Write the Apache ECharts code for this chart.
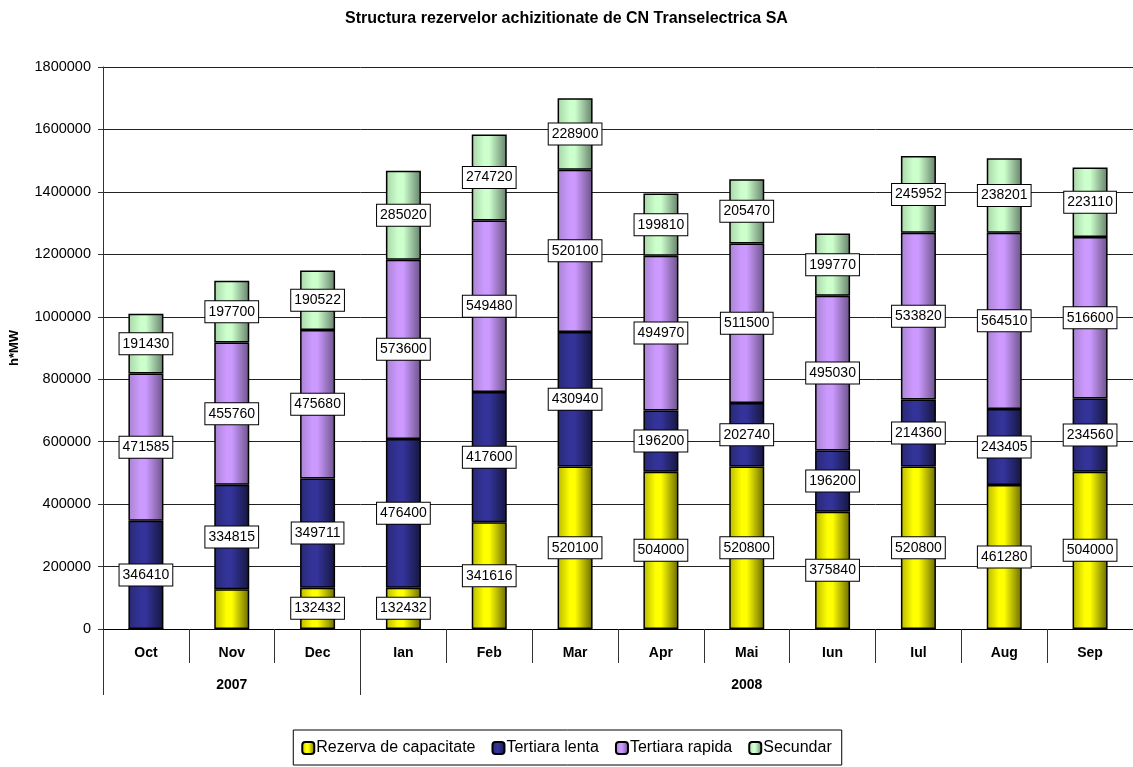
<!DOCTYPE html>
<html>
<head>
<meta charset="utf-8">
<script src="https://cdn.jsdelivr.net/npm/echarts@6/dist/echarts.min.js"></script>
<style>
  html, body { margin: 0; padding: 0; background: #fff; }
  #rezChart { width: 1133px; height: 767px; }
</style>
</head>
<body>
<div id="rezChart"></div>
<script>
// luni si ani
var luni = ["Oct","Nov","Dec","Ian","Feb","Mar","Apr","Mai","Iun","Iul","Aug","Sep"];
var ani = ["","2007","","","","","","2008","","","",""];
// valori h*MW
var rezervaCap = [0, 127000, 132432, 132432, 341616, 520100, 504000, 520800, 375840, 520800, 461280, 504000];
var tertLenta = [346410, 334815, 349711, 476400, 417600, 430940, 196200, 202740, 196200, 214360, 243405, 234560];
var tertRapida = [471585, 455760, 475680, 573600, 549480, 520100, 494970, 511500, 495030, 533820, 564510, 516600];
var secundar = [191430, 197700, 190522, 285020, 274720, 228900, 199810, 205470, 199770, 245952, 238201, 223110];
var yTicks = [0, 200000, 400000, 600000, 800000, 1000000, 1200000, 1400000, 1600000, 1800000];
// etichete ascunse (Oct fara rezerva, Nov fara eticheta in original)
var rezervaFaraEticheta = [0, 1];

var myChart = echarts.init(document.getElementById('rezChart'));

// gradient "cilindru" ca in Excel
var cilindru = function(dark1, mid, dark2){
  return {
    type: 'linear', x: 0, y: 0, x2: 1, y2: 0,
    colorStops: [
      { offset: 0, color: dark1 },
      { offset: 0.35, color: mid },
      { offset: 0.5, color: mid },
      { offset: 1, color: dark2 }
    ]
  };
};

var eticheta = {
  show: true,
  position: 'inside',
  color: '#000',
  fontSize: 14,
  backgroundColor: '#fff',
  borderColor: '#000',
  borderWidth: 1,
  padding: [4, 3, 3, 3],
  formatter: function(p){ return String(p.value); }
};

var serie = function(name, data, color, fara){
  var items = data.map(function(v, i){
    if (fara && fara.indexOf(i) > -1) return { value: v, label: { show: false } };
    return v;
  });
  return {
    name: name,
    type: 'bar',
    stack: 'total',
    barWidth: 35,
    data: items,
    itemStyle: { color: color, borderColor: '#000', borderWidth: 1.5 },
    label: eticheta,
    emphasis: { disabled: true }
  };
};

var option = {
  animation: false,
  textStyle: { fontFamily: 'Arial, "Liberation Sans", sans-serif' },
  title: {
    text: 'Structura rezervelor achizitionate de CN Transelectrica SA',
    left: 'center',
    top: 6,
    textStyle: { fontSize: 16, fontWeight: 'bold', color: '#000' }
  },
  legend: {
    bottom: 2,
    left: 'center',
    itemWidth: 12,
    itemHeight: 12,
    itemGap: 16,
    borderColor: '#000',
    borderWidth: 1,
    padding: [10, 10, 9, 8],
    textStyle: { fontSize: 16, color: '#000', padding: [0, 0, 0, -3] }
  },
  grid: {
    left: 102,
    top: 67,
    width: 1044,
    bottom: 138,
    containLabel: false
  },
  xAxis: [
    {
      type: 'category',
      data: luni,
      axisLine: { show: true, lineStyle: { color: '#000', width: 1 } },
      axisTick: { show: true, interval: 0, length: 34, lineStyle: { color: '#333' } },
      axisLabel: { interval: 0, margin: 17, fontSize: 14, fontWeight: 'bold', color: '#000' },
      splitLine: { show: false }
    },
    {
      type: 'category',
      position: 'bottom',
      data: ani,
      axisLine: { show: false },
      axisTick: {
        show: true,
        length: 66,
        interval: function(i){ return i === 0 || i === 3; },
        lineStyle: { color: '#333' }
      },
      axisLabel: { interval: 0, margin: 49, fontSize: 14, fontWeight: 'bold', color: '#000' },
      splitLine: { show: false }
    }
  ],
  yAxis: {
    type: 'value',
    min: yTicks[0],
    max: yTicks[yTicks.length - 1],
    interval: 200000,
    name: 'h*MW',
    nameLocation: 'middle',
    nameRotate: 90,
    nameGap: 82,
    nameTextStyle: { fontSize: 13, fontWeight: 'bold', color: '#000' },
    axisLine: { show: true, lineStyle: { color: '#333' } },
    axisTick: { show: true, length: 5, lineStyle: { color: '#333' } },
    axisLabel: { fontSize: 14.5, color: '#000', margin: 12, formatter: function(v){ return String(v); } },
    splitLine: { lineStyle: { color: '#222', width: 1 } }
  },
  series: [
    serie('Rezerva de capacitate', rezervaCap, cilindru('#b8b800', '#ffff00', '#6a6a00'), rezervaFaraEticheta),
    serie('Tertiara lenta', tertLenta, cilindru('#292975', '#333399', '#16163f')),
    serie('Tertiara rapida', tertRapida, cilindru('#a884d0', '#cc99ff', '#6b5388')),
    serie('Secundar', secundar, cilindru('#a8d4a8', '#ccffcc', '#65806a'))
  ]
};
myChart.setOption(option);
</script>
</body>
</html>
